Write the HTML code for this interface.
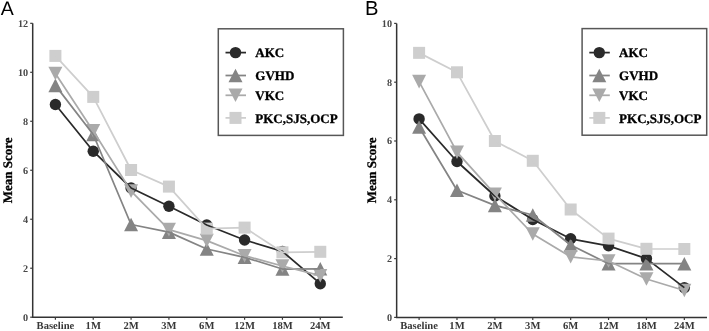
<!DOCTYPE html>
<html><head><meta charset="utf-8"><style>
html,body{margin:0;padding:0;background:#fff;}
body{width:709px;height:331px;overflow:hidden;}
svg{display:block;filter:grayscale(1);}
text{text-rendering:geometricPrecision;}
.pl{font-family:"Liberation Sans",sans-serif;font-size:19.5px;fill:#000;}
.ax{stroke:#333333;stroke-width:1.5;fill:none;}
.tk{stroke:#3a3a3a;stroke-width:1.2;fill:none;}
.yt{font-family:"Liberation Serif",serif;font-weight:bold;font-size:10.2px;fill:#484848;text-anchor:end;}
.xt{font-family:"Liberation Serif",serif;font-weight:bold;font-size:10.6px;fill:#383838;text-anchor:middle;}
.yl{font-family:"Liberation Serif",serif;font-weight:bold;font-size:13px;fill:#000;stroke:#000;stroke-width:0.3px;text-anchor:middle;}
.lg{font-family:"Liberation Serif",serif;font-weight:bold;font-size:13px;fill:#000;stroke:#000;stroke-width:0.3px;}
</style></head><body>
<svg width="709" height="331" viewBox="0 0 709 331">
<rect width="709" height="331" fill="#fff"/>
<text x="0.85" y="15.45" class="pl" style="font-size:19.5px">A</text>
<path d="M32.7 23.32V317.35H342.8" class="ax"/>
<path d="M30.2 317.2H32.7" class="tk"/>
<text transform="translate(28.1,321) scale(1,1)" class="yt">0</text>
<path d="M30.2 268.22H32.7" class="tk"/>
<text transform="translate(28.1,272.02) scale(1,1)" class="yt">2</text>
<path d="M30.2 219.24H32.7" class="tk"/>
<text transform="translate(28.1,223.04) scale(1,1)" class="yt">4</text>
<path d="M30.2 170.26H32.7" class="tk"/>
<text transform="translate(28.1,174.06) scale(1,1)" class="yt">6</text>
<path d="M30.2 121.28H32.7" class="tk"/>
<text transform="translate(28.1,125.08) scale(1,1)" class="yt">8</text>
<path d="M30.2 72.3H32.7" class="tk"/>
<text transform="translate(28.1,76.1) scale(1,1)" class="yt">10</text>
<path d="M30.2 23.32H32.7" class="tk"/>
<text transform="translate(28.1,27.12) scale(1,1)" class="yt">12</text>
<path d="M55.4 317.2V319.8" class="tk"/>
<text x="55.4" y="329.2" class="xt">Baseline</text>
<path d="M93.24 317.2V319.8" class="tk"/>
<text x="93.24" y="329.2" class="xt">1M</text>
<path d="M131.08 317.2V319.8" class="tk"/>
<text x="131.08" y="329.2" class="xt">2M</text>
<path d="M168.92 317.2V319.8" class="tk"/>
<text x="168.92" y="329.2" class="xt">3M</text>
<path d="M206.76 317.2V319.8" class="tk"/>
<text x="206.76" y="329.2" class="xt">6M</text>
<path d="M244.6 317.2V319.8" class="tk"/>
<text x="244.6" y="329.2" class="xt">12M</text>
<path d="M282.44 317.2V319.8" class="tk"/>
<text x="282.44" y="329.2" class="xt">18M</text>
<path d="M320.28 317.2V319.8" class="tk"/>
<text x="320.28" y="329.2" class="xt">24M</text>
<text transform="translate(12.2,170.3) rotate(-90) scale(1,1)" class="yl">Mean Score</text>
<circle cx="55.4" cy="104.5" r="5.7" fill="#2a2a2a"/>
<circle cx="93.24" cy="151.2" r="5.7" fill="#2a2a2a"/>
<circle cx="131.08" cy="188" r="5.7" fill="#2a2a2a"/>
<circle cx="168.92" cy="206.3" r="5.7" fill="#2a2a2a"/>
<circle cx="206.76" cy="225" r="5.7" fill="#2a2a2a"/>
<circle cx="244.6" cy="240" r="5.7" fill="#2a2a2a"/>
<circle cx="282.44" cy="251.4" r="5.7" fill="#2a2a2a"/>
<circle cx="320.28" cy="283.7" r="5.7" fill="#2a2a2a"/>
<polygon points="55.4,78.6 62.4,92.2 48.4,92.2" fill="#848484"/>
<polygon points="93.24,127.7 100.24,141.3 86.24,141.3" fill="#848484"/>
<polygon points="131.08,217.7 138.08,231.3 124.08,231.3" fill="#848484"/>
<polygon points="168.92,225.3 175.92,238.9 161.92,238.9" fill="#848484"/>
<polygon points="206.76,242.2 213.76,255.8 199.76,255.8" fill="#848484"/>
<polygon points="244.6,250.5 251.6,264.1 237.6,264.1" fill="#848484"/>
<polygon points="282.44,262.2 289.44,275.8 275.44,275.8" fill="#848484"/>
<polygon points="320.28,262 327.28,275.6 313.28,275.6" fill="#848484"/>
<polygon points="48.4,66.7 62.4,66.7 55.4,80.3" fill="#aaaaaa"/>
<polygon points="86.24,124.1 100.24,124.1 93.24,137.7" fill="#aaaaaa"/>
<polygon points="124.08,184.3 138.08,184.3 131.08,197.9" fill="#aaaaaa"/>
<polygon points="161.92,222.8 175.92,222.8 168.92,236.4" fill="#aaaaaa"/>
<polygon points="199.76,233.8 213.76,233.8 206.76,247.4" fill="#aaaaaa"/>
<polygon points="237.6,248.9 251.6,248.9 244.6,262.5" fill="#aaaaaa"/>
<polygon points="275.44,259.2 289.44,259.2 282.44,272.8" fill="#aaaaaa"/>
<polygon points="313.28,268.9 327.28,268.9 320.28,282.5" fill="#aaaaaa"/>
<rect x="49.4" y="49.9" width="12" height="12" fill="#cecece"/>
<rect x="87.24" y="90.9" width="12" height="12" fill="#cecece"/>
<rect x="125.08" y="164" width="12" height="12" fill="#cecece"/>
<rect x="162.92" y="180.6" width="12" height="12" fill="#cecece"/>
<rect x="200.76" y="222.6" width="12" height="12" fill="#cecece"/>
<rect x="238.6" y="221.6" width="12" height="12" fill="#cecece"/>
<rect x="276.44" y="246.3" width="12" height="12" fill="#cecece"/>
<rect x="314.28" y="245.8" width="12" height="12" fill="#cecece"/>
<polyline points="55.4,104.5 93.24,151.2 131.08,188 168.92,206.3 206.76,225 244.6,240 282.44,251.4 320.28,283.7" fill="none" stroke="#2a2a2a" stroke-width="1.75" stroke-linejoin="round"/>
<polyline points="55.4,85.4 93.24,134.5 131.08,224.5 168.92,232.1 206.76,249 244.6,257.3 282.44,269 320.28,268.8" fill="none" stroke="#848484" stroke-width="1.75" stroke-linejoin="round"/>
<polyline points="55.4,73.5 93.24,130.9 131.08,191.1 168.92,229.6 206.76,240.6 244.6,255.7 282.44,266 320.28,275.7" fill="none" stroke="#aaaaaa" stroke-width="1.75" stroke-linejoin="round"/>
<polyline points="55.4,55.9 93.24,96.9 131.08,170 168.92,186.6 206.76,228.6 244.6,227.6 282.44,252.3 320.28,251.8" fill="none" stroke="#cecece" stroke-width="1.75" stroke-linejoin="round"/>
<rect x="218.3" y="28.8" width="125.1" height="106.6" fill="none" stroke="#575757" stroke-width="1.5"/>
<path d="M225.5 52.6H246" stroke="#2a2a2a" stroke-width="1.75"/>
<circle cx="235.5" cy="52.6" r="5.7" fill="#2a2a2a"/>
<text transform="translate(255.3,57) scale(1,1)" class="lg">AKC</text>
<path d="M225.5 75.5H246" stroke="#848484" stroke-width="1.75"/>
<polygon points="235.5,68.7 242.5,82.3 228.5,82.3" fill="#848484"/>
<text transform="translate(255.3,79.6) scale(1,1)" class="lg">GVHD</text>
<path d="M225.5 95.3H246" stroke="#aaaaaa" stroke-width="1.75"/>
<polygon points="228.5,88.5 242.5,88.5 235.5,102.1" fill="#aaaaaa"/>
<text transform="translate(255.3,99.5) scale(1,1)" class="lg">VKC</text>
<path d="M225.5 117.9H246" stroke="#cecece" stroke-width="1.75"/>
<rect x="229.5" y="111.9" width="12" height="12" fill="#cecece"/>
<text transform="translate(255.3,122.5) scale(1,1)" class="lg">PKC,SJS,OCP</text>
<text x="364.9" y="15.3" class="pl" style="font-size:20.2px">B</text>
<path d="M396.65 23.4V317.55H707" class="ax"/>
<path d="M394.15 317.4H396.65" class="tk"/>
<text transform="translate(392.05,320.8) scale(1,1)" class="yt">0</text>
<path d="M394.15 258.6H396.65" class="tk"/>
<text transform="translate(392.05,262) scale(1,1)" class="yt">2</text>
<path d="M394.15 199.8H396.65" class="tk"/>
<text transform="translate(392.05,203.2) scale(1,1)" class="yt">4</text>
<path d="M394.15 141H396.65" class="tk"/>
<text transform="translate(392.05,144.4) scale(1,1)" class="yt">6</text>
<path d="M394.15 82.2H396.65" class="tk"/>
<text transform="translate(392.05,85.6) scale(1,1)" class="yt">8</text>
<path d="M394.15 23.4H396.65" class="tk"/>
<text transform="translate(392.05,26.8) scale(1,1)" class="yt">10</text>
<path d="M419.1 317.4V320" class="tk"/>
<text x="419.1" y="329.2" class="xt">Baseline</text>
<path d="M456.99 317.4V320" class="tk"/>
<text x="456.99" y="329.2" class="xt">1M</text>
<path d="M494.88 317.4V320" class="tk"/>
<text x="494.88" y="329.2" class="xt">2M</text>
<path d="M532.77 317.4V320" class="tk"/>
<text x="532.77" y="329.2" class="xt">3M</text>
<path d="M570.66 317.4V320" class="tk"/>
<text x="570.66" y="329.2" class="xt">6M</text>
<path d="M608.55 317.4V320" class="tk"/>
<text x="608.55" y="329.2" class="xt">12M</text>
<path d="M646.44 317.4V320" class="tk"/>
<text x="646.44" y="329.2" class="xt">18M</text>
<path d="M684.33 317.4V320" class="tk"/>
<text x="684.33" y="329.2" class="xt">24M</text>
<text transform="translate(376.15,170.3) rotate(-90) scale(1,1)" class="yl">Mean Score</text>
<circle cx="419.1" cy="118.9" r="5.7" fill="#2a2a2a"/>
<circle cx="456.99" cy="161.5" r="5.7" fill="#2a2a2a"/>
<circle cx="494.88" cy="196" r="5.7" fill="#2a2a2a"/>
<circle cx="532.77" cy="219.5" r="5.7" fill="#2a2a2a"/>
<circle cx="570.66" cy="238.8" r="5.7" fill="#2a2a2a"/>
<circle cx="608.55" cy="245.8" r="5.7" fill="#2a2a2a"/>
<circle cx="646.44" cy="258.6" r="5.7" fill="#2a2a2a"/>
<circle cx="684.33" cy="287.6" r="5.7" fill="#2a2a2a"/>
<polygon points="419.1,120.2 426.1,133.8 412.1,133.8" fill="#848484"/>
<polygon points="456.99,183.5 463.99,197.1 449.99,197.1" fill="#848484"/>
<polygon points="494.88,198.6 501.88,212.2 487.88,212.2" fill="#848484"/>
<polygon points="532.77,208.2 539.77,221.8 525.77,221.8" fill="#848484"/>
<polygon points="570.66,238.2 577.66,251.8 563.66,251.8" fill="#848484"/>
<polygon points="608.55,256.9 615.55,270.5 601.55,270.5" fill="#848484"/>
<polygon points="646.44,256.9 653.44,270.5 639.44,270.5" fill="#848484"/>
<polygon points="684.33,256.9 691.33,270.5 677.33,270.5" fill="#848484"/>
<polygon points="412.1,74.8 426.1,74.8 419.1,88.4" fill="#aaaaaa"/>
<polygon points="449.99,145.4 463.99,145.4 456.99,159" fill="#aaaaaa"/>
<polygon points="487.88,187.4 501.88,187.4 494.88,201" fill="#aaaaaa"/>
<polygon points="525.77,227.2 539.77,227.2 532.77,240.8" fill="#aaaaaa"/>
<polygon points="563.66,250 577.66,250 570.66,263.6" fill="#aaaaaa"/>
<polygon points="601.55,254.2 615.55,254.2 608.55,267.8" fill="#aaaaaa"/>
<polygon points="639.44,272.2 653.44,272.2 646.44,285.8" fill="#aaaaaa"/>
<polygon points="677.33,283.7 691.33,283.7 684.33,297.3" fill="#aaaaaa"/>
<rect x="413.1" y="46.85" width="12" height="12" fill="#cecece"/>
<rect x="450.99" y="66.3" width="12" height="12" fill="#cecece"/>
<rect x="488.88" y="135" width="12" height="12" fill="#cecece"/>
<rect x="526.77" y="154.8" width="12" height="12" fill="#cecece"/>
<rect x="564.66" y="203.5" width="12" height="12" fill="#cecece"/>
<rect x="602.55" y="232.6" width="12" height="12" fill="#cecece"/>
<rect x="640.44" y="242.8" width="12" height="12" fill="#cecece"/>
<rect x="678.33" y="243" width="12" height="12" fill="#cecece"/>
<polyline points="419.1,118.9 456.99,161.5 494.88,196 532.77,219.5 570.66,238.8 608.55,245.8 646.44,258.6 684.33,287.6" fill="none" stroke="#2a2a2a" stroke-width="1.75" stroke-linejoin="round"/>
<polyline points="419.1,127 456.99,190.3 494.88,205.4 532.77,215 570.66,245 608.55,263.7 646.44,263.7 684.33,263.7" fill="none" stroke="#848484" stroke-width="1.75" stroke-linejoin="round"/>
<polyline points="419.1,81.6 456.99,152.2 494.88,194.2 532.77,234 570.66,256.8 608.55,261 646.44,279 684.33,290.5" fill="none" stroke="#aaaaaa" stroke-width="1.75" stroke-linejoin="round"/>
<polyline points="419.1,52.85 456.99,72.3 494.88,141 532.77,160.8 570.66,209.5 608.55,238.6 646.44,248.8 684.33,249" fill="none" stroke="#cecece" stroke-width="1.75" stroke-linejoin="round"/>
<rect x="582.1" y="28.6" width="124.6" height="106.6" fill="none" stroke="#575757" stroke-width="1.5"/>
<path d="M589.3 52.6H609.8" stroke="#2a2a2a" stroke-width="1.75"/>
<circle cx="599.3" cy="52.6" r="5.7" fill="#2a2a2a"/>
<text transform="translate(619.1,57) scale(1,1)" class="lg">AKC</text>
<path d="M589.3 75.5H609.8" stroke="#848484" stroke-width="1.75"/>
<polygon points="599.3,68.7 606.3,82.3 592.3,82.3" fill="#848484"/>
<text transform="translate(619.1,79.6) scale(1,1)" class="lg">GVHD</text>
<path d="M589.3 95.3H609.8" stroke="#aaaaaa" stroke-width="1.75"/>
<polygon points="592.3,88.5 606.3,88.5 599.3,102.1" fill="#aaaaaa"/>
<text transform="translate(619.1,99.5) scale(1,1)" class="lg">VKC</text>
<path d="M589.3 117.9H609.8" stroke="#cecece" stroke-width="1.75"/>
<rect x="593.3" y="111.9" width="12" height="12" fill="#cecece"/>
<text transform="translate(619.1,122.5) scale(1,1)" class="lg">PKC,SJS,OCP</text>
</svg>
</body></html>
